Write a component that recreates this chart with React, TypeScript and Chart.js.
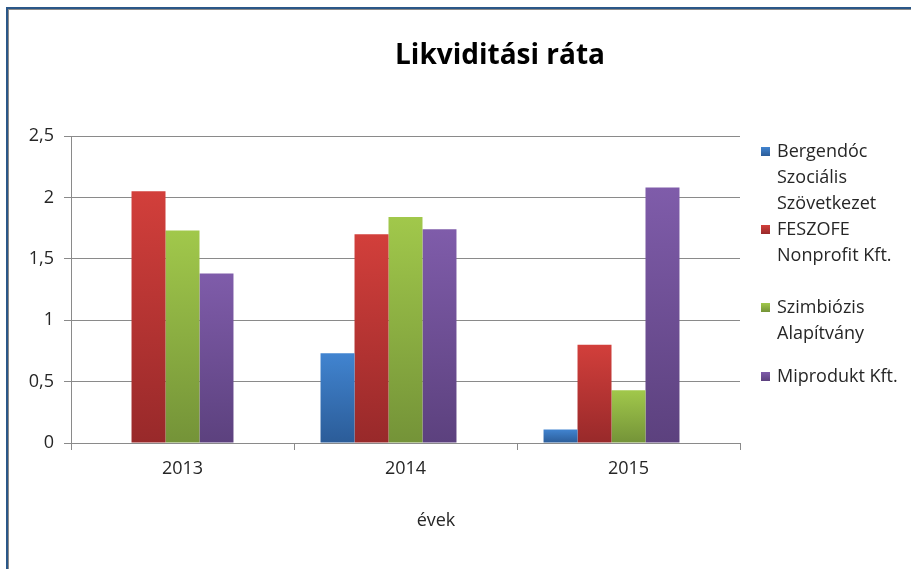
import React, { useEffect, useRef } from "react";
import { Chart, registerables } from "chart.js";

Chart.register(...registerables);

const categories = ["2013", "2014", "2015"];
const bergendoc = [0, 0.73, 0.11];
const feszofe = [2.05, 1.7, 0.8];
const szimbiozis = [1.73, 1.84, 0.43];
const miprodukt = [1.38, 1.74, 2.08];
// the source workbook has a fifth, empty series that keeps a slot in each group
const emptySeries = [null, null, null];
const seriesNames = [
  "Bergendóc Szociális Szövetkezet",
  "FESZOFE Nonprofit Kft.",
  "Szimbiózis Alapítvány",
  "Miprodukt Kft.",
];
const yTickValues = [0, 0.5, 1, 1.5, 2, 2.5];
const chartTitle = "Likviditási ráta";
const xAxisTitle = "évek";

const palette = [
  { top: "#4184d0", bottom: "#2b5c98" },
  { top: "#d23f3b", bottom: "#98292a" },
  { top: "#a1c84b", bottom: "#749338" },
  { top: "#7f5caa", bottom: "#5c417e" },
  { top: "#4bacc6", bottom: "#31859c" },
];

const FONT = "'Open Sans', 'Noto Sans', sans-serif";
const TEXT = "#262626";
const GRID = "#8a8a8a";

function barFill(i: number) {
  return (ctx: any) => {
    const chart = ctx.chart;
    const { chartArea, scales } = chart;
    if (!chartArea || !scales || !scales.y || ctx.type !== "data") return palette[i].top;
    const v = ctx.raw as number;
    if (v == null) return palette[i].top;
    const yTop = scales.y.getPixelForValue(v);
    const yBot = scales.y.getPixelForValue(0);
    if (!(yBot > yTop + 0.5)) return palette[i].top;
    const g = chart.ctx.createLinearGradient(0, yTop, 0, yBot);
    g.addColorStop(0, palette[i].top);
    g.addColorStop(1, palette[i].bottom);
    return g;
  };
}

function wrapText(ctx: CanvasRenderingContext2D, text: string, maxW: number): string[] {
  const words = text.split(" ");
  const lines: string[] = [];
  let cur = "";
  for (const w of words) {
    const t = cur ? cur + " " + w : w;
    if (cur && ctx.measureText(t).width > maxW) {
      lines.push(cur);
      cur = w;
    } else cur = t;
  }
  if (cur) lines.push(cur);
  return lines;
}

const decorPlugin = {
  id: "excelDecor",
  beforeDraw(chart: any) {
    const { ctx, width, height } = chart;
    ctx.save();
    ctx.fillStyle = "#ffffff";
    ctx.fillRect(0, 0, width, height);
    ctx.fillStyle = "#2a5788";
    ctx.fillRect(6, 7, width, 2);
    ctx.fillRect(6, 7, 2, height);
    ctx.fillStyle = "#8c8c8c";
    ctx.fillRect(8, 9, width, 1);
    ctx.fillRect(8, 9, 1, height);
    ctx.restore();
  },
  afterDraw(chart: any) {
    const { ctx, chartArea } = chart;
    ctx.save();
    ctx.fillStyle = "#000000";
    ctx.font = `bold 28px ${FONT}`;
    ctx.textAlign = "center";
    ctx.textBaseline = "alphabetic";
    ctx.fillText(chartTitle, 500, 64);
    ctx.fillStyle = TEXT;
    ctx.font = `18px ${FONT}`;
    ctx.textBaseline = "middle";
    ctx.fillText(xAxisTitle, 436, 521);
    const legendX = chartArea.right + 21;
    const itemBaselines = [157, 235, 313, 382];
    const lineH = 26;
    ctx.textAlign = "left";
    ctx.textBaseline = "alphabetic";
    seriesNames.forEach((name, i) => {
      const lines = wrapText(ctx, name, 130);
      const by = itemBaselines[i];
      const g = ctx.createLinearGradient(0, by - 10, 0, by - 1);
      g.addColorStop(0, palette[i].top);
      g.addColorStop(1, palette[i].bottom);
      ctx.fillStyle = g;
      ctx.fillRect(legendX, by - 10, 9, 9);
      ctx.fillStyle = TEXT;
      lines.forEach((ln, k) => {
        ctx.fillText(ln, legendX + 16, by + k * lineH);
      });
    });
    ctx.restore();
  },
};

export default function App() {
  const ref = useRef<HTMLCanvasElement | null>(null);

  useEffect(() => {
    if (!ref.current) return;
    const datasets = [bergendoc, feszofe, szimbiozis, miprodukt, emptySeries].map((d, i) => ({
      label: seriesNames[i] ?? "",
      data: d,
      backgroundColor: barFill(i),
      borderWidth: 0,
      categoryPercentage: 0.762,
      barPercentage: 1.0,
    }));
    const chart = new Chart(ref.current, {
      type: "bar",
      data: { labels: categories, datasets },
      options: {
        responsive: false,
        animation: false,
        devicePixelRatio: 1,
        layout: { padding: { left: 0, top: 136, right: 171, bottom: 0 } },
        plugins: {
          legend: { display: false },
          title: { display: false },
          tooltip: { enabled: false },
        },
        scales: {
          x: {
            grid: {
              display: true,
              drawOnChartArea: false,
              drawTicks: true,
              tickLength: 7,
              color: GRID,
              offset: true,
            },
            border: { display: true, color: GRID, width: 1 },
            ticks: {
              color: TEXT,
              font: { family: FONT, size: 18 },
              padding: 8,
              maxRotation: 0,
            },
            afterFit: (scale: any) => {
              scale.height = 126;
            },
          },
          y: {
            min: 0,
            max: 2.5,
            grid: {
              color: GRID,
              lineWidth: 1,
              drawTicks: true,
              tickLength: 7,
            },
            border: { display: true, color: GRID, width: 1 },
            afterBuildTicks: (scale: any) => {
              scale.ticks = yTickValues.map((v) => ({ value: v }));
            },
            ticks: {
              color: TEXT,
              font: { family: FONT, size: 18 },
              padding: 10,
              callback: (v: any) => String(v).replace(".", ","),
            },
            afterFit: (scale: any) => {
              scale.width = 71;
            },
          },
        },
      },
      plugins: [decorPlugin],
    });
    return () => chart.destroy();
  }, []);

  return (
    <div
      style={{
        position: "fixed",
        left: 0,
        top: 0,
        width: 911,
        height: 569,
        overflow: "hidden",
        background: "#fff",
      }}
    >
      <canvas ref={ref} width={911} height={569} style={{ display: "block", width: 911, height: 569 }} />
    </div>
  );
}
